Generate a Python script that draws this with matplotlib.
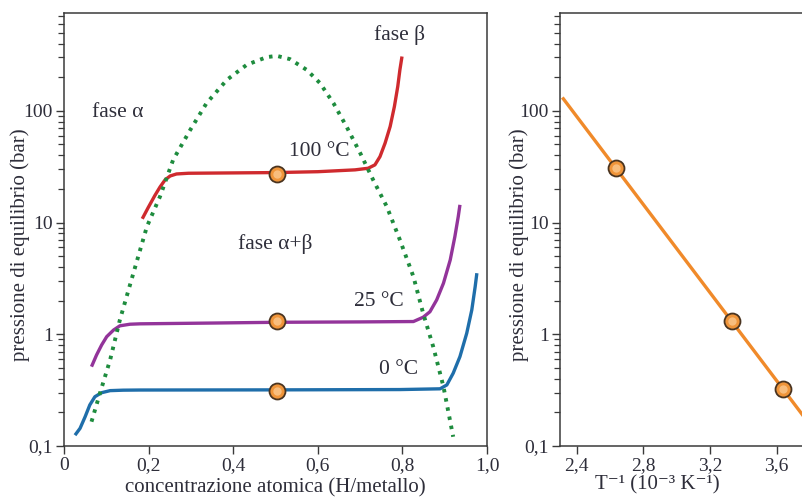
import matplotlib
matplotlib.use("Agg")
import matplotlib.pyplot as plt
from matplotlib.ticker import FixedLocator, LogLocator, NullFormatter

plt.rcParams['font.family'] = ['Liberation Serif', 'DejaVu Serif']

TXT = '#2e2e3a'
AXC = '#3a3a3a'

# --- isotherms (x = H/metal, p in bar)
x_100 = [0.185, 0.199, 0.215, 0.227, 0.239, 0.251, 0.266, 0.294, 0.40, 0.503, 0.60, 0.688,
         0.719, 0.735, 0.747, 0.759, 0.771, 0.781, 0.789, 0.794, 0.799]
p_100 = [10.8, 13.6, 17.5, 20.8, 24.1, 26.1, 27.2, 27.6, 27.8, 28.0, 28.5, 29.6,
         30.6, 32.8, 38.9, 51.3, 72.3, 109, 165, 232, 306]

x_25 = [0.065, 0.077, 0.089, 0.101, 0.117, 0.132, 0.156, 0.180, 0.35, 0.503, 0.70, 0.826,
        0.849, 0.865, 0.881, 0.897, 0.913, 0.924, 0.932, 0.936]
p_25 = [0.513, 0.653, 0.802, 0.952, 1.09, 1.19, 1.23, 1.24, 1.26, 1.28, 1.29, 1.30,
        1.42, 1.59, 2.03, 2.86, 4.62, 7.48, 11.3, 14.4]

x_0 = [0.026, 0.038, 0.050, 0.061, 0.073, 0.089, 0.109, 0.140, 0.180, 0.503, 0.794, 0.889,
       0.905, 0.920, 0.936, 0.952, 0.964, 0.972, 0.976]
p_0 = [0.125, 0.144, 0.183, 0.233, 0.276, 0.300, 0.313, 0.316, 0.317, 0.318, 0.320, 0.325,
       0.352, 0.448, 0.631, 1.02, 1.65, 2.67, 3.52]

# two-phase dome
x_dome = [0.065, 0.085, 0.109, 0.132, 0.164, 0.196, 0.227, 0.258, 0.298, 0.337, 0.385, 0.432, 0.479, 0.503,
          0.534, 0.574, 0.605, 0.637, 0.668, 0.700, 0.731, 0.763, 0.794, 0.826, 0.849, 0.873, 0.897, 0.920]
p_dome = [0.165, 0.297, 0.589, 1.34, 3.52, 9.2, 17.1, 36.4, 67, 117, 189, 258, 302, 310,
          290, 232, 177, 117, 72, 42, 24, 13.9, 7.0, 3.28, 1.54, 0.77, 0.34, 0.121]

# plateau points
x_mid = [0.503, 0.503, 0.503]
p_mid = [27.2, 1.32, 0.313]

# van 't Hoff plot
invT_pts = [2.635, 3.335, 3.637]
p_pts = [30.6, 1.32, 0.324]
invT_fit = [2.32, 3.80]
p_fit = [128, 0.155]

ytick_vals = [0.1, 1, 10, 100]
ytick_lbls = ['0,1', '1', '10', '100']


def style_axes(ax, ylab_x):
    ax.set_yscale('log')
    ax.set_ylim(0.1, 750)
    ax.yaxis.set_major_locator(FixedLocator(ytick_vals))
    ax.set_yticklabels(ytick_lbls)
    ax.yaxis.set_minor_locator(LogLocator(base=10, subs=range(2, 10), numticks=20))
    ax.yaxis.set_minor_formatter(NullFormatter())
    for s in ax.spines.values():
        s.set_color(AXC)
        s.set_linewidth(1.1)
    ax.tick_params(which='both', direction='out', color=AXC, labelcolor=TXT, labelsize=14)
    ax.tick_params(which='major', length=6, width=1.0, pad=2)
    ax.tick_params(which='minor', length=4, width=0.9)
    ax.tick_params(top=False, right=False)
    ax.set_ylabel('pressione di equilibrio (bar)', fontsize=15, color=TXT)
    ax.yaxis.set_label_coords(ylab_x, 0.464)


def orange_dots(ax, xs, ys):
    ax.plot(xs, ys, 'o', ms=11.5, mfc='#f0953a', mec='#4a3420', mew=1.3, zorder=5, clip_on=False)
    ax.plot(xs, ys, 'o', ms=6, mfc='#fbc88f', mec='none', alpha=0.8, zorder=6, clip_on=False)


fig = plt.figure(figsize=(8.03, 4.98), dpi=100)
ax1 = fig.add_axes([0.0797, 0.1044, 0.5268, 0.8695])
ax2 = fig.add_axes([0.6974, 0.1044, 0.3113, 0.8695])

# left panel
ax1.plot(x_dome, p_dome, color='#1e8c3e', lw=2.8, ls=(0, (0.9, 1.5)), zorder=3)
ax1.plot(x_100, p_100, color='#cf2a2e', lw=2.4, solid_capstyle='butt', solid_joinstyle='round', zorder=2)
ax1.plot(x_25, p_25, color='#93349a', lw=2.4, solid_capstyle='butt', solid_joinstyle='round', zorder=2)
ax1.plot(x_0, p_0, color='#1f6eaa', lw=2.4, solid_capstyle='butt', solid_joinstyle='round', zorder=2)
orange_dots(ax1, x_mid, p_mid)

style_axes(ax1, -0.08)
ax1.set_xlim(0, 1.0)
ax1.set_xticks([0, 0.2, 0.4, 0.6, 0.8, 1.0])
ax1.set_xticklabels(['0', '0,2', '0,4', '0,6', '0,8', '1,0'])
ax1.set_xlabel('concentrazione atomica (H/metallo)', fontsize=15, color=TXT, labelpad=3)

lab = dict(fontsize=15.5, color=TXT, ha='center', va='center')
ax1.text(0.128, 96, 'fase α', **lab)
ax1.text(0.794, 480, 'fase β', **lab)
ax1.text(0.603, 43, '100 °C', **lab)
ax1.text(0.499, 6.4, 'fase α+β', **lab)
ax1.text(0.745, 1.95, '25 °C', **lab)
ax1.text(0.792, 0.48, '0 °C', **lab)

# right panel
ax2.plot(invT_fit, p_fit, color='#f08a2a', lw=2.4, zorder=2)
orange_dots(ax2, invT_pts, p_pts)
style_axes(ax2, -0.125)
ax2.set_xlim(2.3, 3.8)
ax2.set_xticks([2.4, 2.8, 3.2, 3.6])
ax2.set_xticklabels(['2,4', '2,8', '3,2', '3,6'])
ax2.set_xlabel('T⁻¹ (10⁻³ K⁻¹)', fontsize=15, color=TXT)
ax2.xaxis.set_label_coords(0.39, -0.068)

fig.savefig('out.png', dpi=100)
